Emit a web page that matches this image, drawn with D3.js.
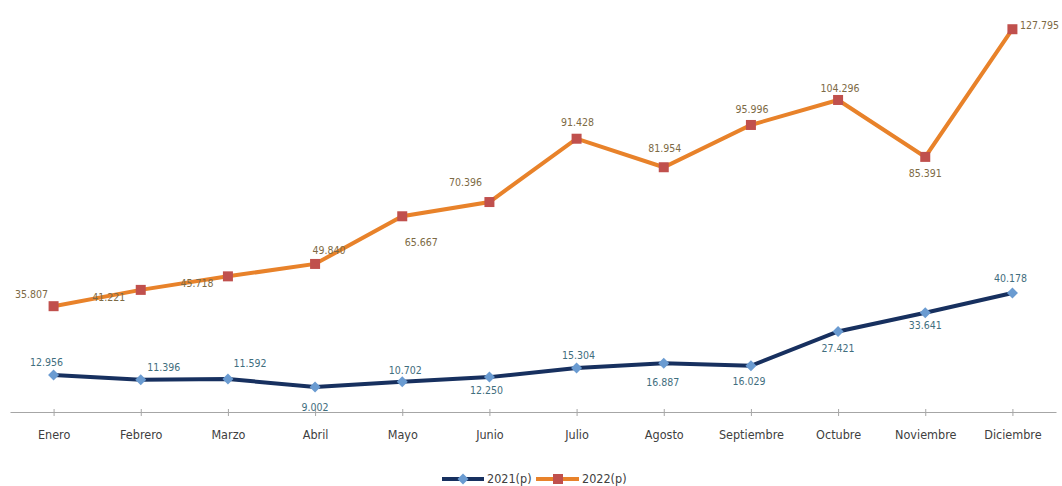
<!DOCTYPE html>
<html>
<head>
<meta charset="utf-8">
<script src="https://cdn.jsdelivr.net/npm/d3@7"></script>
<style>
  body { margin: 0; background: #fff; }
  text { font-family: "DejaVu Sans Condensed", "Liberation Sans", sans-serif; }
</style>
</head>
<body>
<div id="chart"></div>
<script>
"use strict"

var months = ["Enero","Febrero","Marzo","Abril","Mayo","Junio","Julio","Agosto","Septiembre","Octubre","Noviembre","Diciembre"];
var values2021 = [12.956, 11.396, 11.592, 9.002, 10.702, 12.250, 15.304, 16.887, 16.029, 27.421, 33.641, 40.178];
var values2022 = [35.807, 41.221, 45.718, 49.840, 65.667, 70.396, 91.428, 81.954, 95.996, 104.296, 85.391, 127.795];
var seriesNames = ["2021(p)", "2022(p)"];

// label offsets (layout only)
var off2021 = [[-7,-13],[23,-12],[22,-16],[0,20],[3,-11],[-3,13],[2,-13],[-1,19],[-2,16],[0,17],[0,13],[-2,-15]];
var off2022 = [[-22,-12],[-32,7],[-31,7],[14,-14],[19,26],[-24,-20],[1,-16],[1,-19],[1,-16],[2,-12],[0,16],[27,-4]];

// rotated square marker
var diamond = "M0,-5.5L5.5,0L0,5.5L-5.5,0Z";

function createChart(){
  var svg = d3.select("#chart").append("svg")
    .attr("width", 1062)
    .attr("height", 486);

  var x = d3.scalePoint()
    .domain(months)
    .range([10, 1056])
    .padding(0.5);

  var y = d3.scaleLinear()
    .domain([0, 137.5])
    .range([414, 0]);

  // x axis
  var xAxis = d3.axisBottom(x).tickSize(4).tickSizeOuter(0).tickPadding(14);
  var gx = svg.append("g")
    .attr("transform", "translate(0,412)")
    .call(xAxis);
  gx.select(".domain").attr("stroke", "#a6a6a6").attr("stroke-width", 1.2);
  gx.selectAll(".tick line").attr("stroke", "#a6a6a6").attr("y1", -3).attr("y2", 4);
  gx.selectAll(".tick text")
    .attr("fill", "#404040")
    .style("font-size", "12.5px");

  var line = d3.line()
    .x(function(d, i) { return x(months[i]); })
    .y(function(d) { return y(d); });

  // 2022 series
  svg.append("path")
    .datum(values2022)
    .attr("fill", "none")
    .attr("stroke", "#e8822a")
    .attr("stroke-width", 4)
    .attr("d", line);

  svg.selectAll(".m2022")
    .data(values2022)
    .enter().append("rect")
    .attr("x", function(d, i) { return x(months[i]) - 5; })
    .attr("y", function(d) { return y(d) - 5; })
    .attr("width", 10)
    .attr("height", 10)
    .attr("fill", "#c0504d");

  // 2021 series
  svg.append("path")
    .datum(values2021)
    .attr("fill", "none")
    .attr("stroke", "#17305f")
    .attr("stroke-width", 4)
    .attr("d", line);

  svg.selectAll(".m2021")
    .data(values2021)
    .enter().append("path")
    .attr("transform", function(d, i) { return "translate(" + x(months[i]) + "," + y(d) + ")"; })
    .attr("d", diamond)
    .attr("fill", "#6a9bd1");

  // labels
  svg.selectAll(".l2022")
    .data(values2022)
    .enter().append("text")
    .attr("x", function(d, i) { return x(months[i]) + off2022[i][0]; })
    .attr("y", function(d, i) { return y(d) + off2022[i][1]; })
    .attr("text-anchor", "middle")
    .attr("dy", "0.35em")
    .attr("fill", "#7d6a45")
    .style("font-size", "10.5px")
    .text(function(d) { return d.toFixed(3); });

  svg.selectAll(".l2021")
    .data(values2021)
    .enter().append("text")
    .attr("x", function(d, i) { return x(months[i]) + off2021[i][0]; })
    .attr("y", function(d, i) { return y(d) + off2021[i][1]; })
    .attr("text-anchor", "middle")
    .attr("dy", "0.35em")
    .attr("fill", "#3f6e7e")
    .style("font-size", "10.5px")
    .text(function(d) { return d.toFixed(3); });

  // legend
  var legend = svg.append("g").attr("transform", "translate(442,479)");
  legend.append("line").attr("x1", 0).attr("x2", 42).attr("y1", 0).attr("y2", 0)
    .attr("stroke", "#17305f").attr("stroke-width", 4);
  legend.append("path").attr("transform", "translate(21,0)")
    .attr("d", diamond).attr("fill", "#6a9bd1");
  legend.append("text").attr("x", 45).attr("y", 0).attr("dy", "0.35em")
    .attr("fill", "#404040").style("font-size", "12.5px").text(seriesNames[0]);
  legend.append("line").attr("x1", 94).attr("x2", 137).attr("y1", 0).attr("y2", 0)
    .attr("stroke", "#e8822a").attr("stroke-width", 4);
  legend.append("rect").attr("x", 111).attr("y", -5).attr("width", 10).attr("height", 10)
    .attr("fill", "#c0504d");
  legend.append("text").attr("x", 140).attr("y", 0).attr("dy", "0.35em")
    .attr("fill", "#404040").style("font-size", "12.5px").text(seriesNames[1]);
}

createChart();
</script>
</body>
</html>
